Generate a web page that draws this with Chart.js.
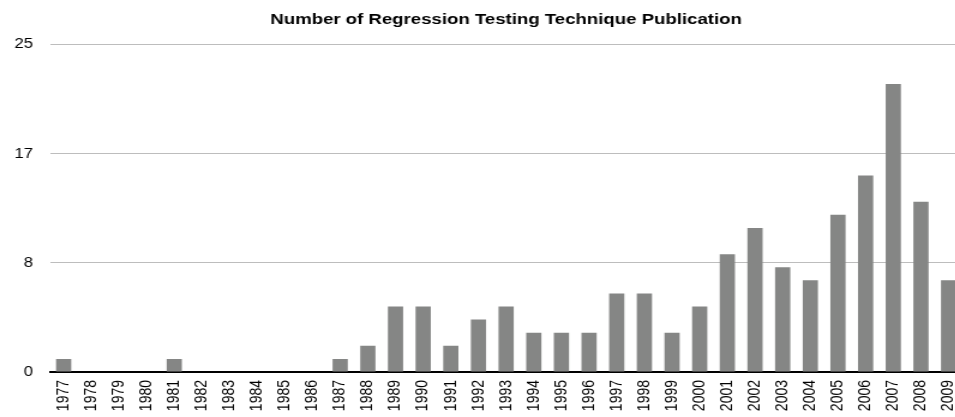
<!DOCTYPE html>
<html>
<head>
<meta charset="utf-8">
<script src="https://cdn.jsdelivr.net/npm/chart.js@4"></script>
<style>
html,body{margin:0;padding:0;background:#fff;overflow:hidden;width:955px;height:417px;}
#wrap{width:955px;height:417px;overflow:hidden;position:relative;}
#c{position:absolute;left:0;top:0;transform:scaleX(1.2);transform-origin:0 0;}
</style>
</head>
<body>
<div id="wrap"><canvas id="c" width="802" height="417"></canvas></div>
<script>
const years = ["1977","1978","1979","1980","1981","1982","1983","1984","1985","1986","1987","1988","1989","1990","1991","1992","1993","1994","1995","1996","1997","1998","1999","2000","2001","2002","2003","2004","2005","2006","2007","2008","2009"];
const publications = [1,0,0,0,1,0,0,0,0,0,1,2,5,5,2,4,5,3,3,3,6,6,3,5,9,11,8,7,12,15,22,13,7];
const yTicks = [0, 25/3, 50/3, 25];
const chartTitle = "Number of Regression Testing Technique Publication";
const FONT = 'Liberation Sans, Arial, Helvetica, sans-serif';

new Chart(document.getElementById('c'), {
  type: 'bar',
  data: {
    labels: years,
    datasets: [{
      data: publications,
      backgroundColor: '#858685',
      categoryPercentage: 0.55,
      barPercentage: 1.0
    }]
  },
  options: {
    responsive: false,
    animation: false,
    layout: { padding: { left: 0, right: 0, top: 0, bottom: 0 } },
    plugins: {
      legend: { display: false },
      tooltip: { enabled: false },
      title: {
        display: true,
        text: chartTitle,
        fullSize: false,
        color: '#000',
        font: { family: FONT, size: 15.5, weight: 'bold' },
        padding: { top: 10, bottom: 16 }
      }
    },
    scales: {
      x: {
        grid: { display: false, drawTicks: false },
        border: { display: true, color: '#000', width: 2 },
        ticks: {
          color: '#000',
          maxRotation: 90, minRotation: 90,
          autoSkip: false,
          padding: 8,
          font: { family: FONT, size: 14 }
        },
        afterFit: s => { s.height = 45; s.paddingLeft = 0; s.paddingRight = 0; }
      },
      y: {
        min: 0, max: 25,
        afterBuildTicks: s => { s.ticks = yTicks.map(v => ({ value: v })); },
        grid: { color: '#bdbdbd', lineWidth: 1, drawTicks: false },
        border: { display: false },
        ticks: {
          color: '#000',
          padding: 14,
          font: { family: FONT, size: 14 },
          callback: v => Math.round(v)
        },
        afterFit: s => { s.width = 41.5; }
      }
    }
  }
});
</script>
</body>
</html>
